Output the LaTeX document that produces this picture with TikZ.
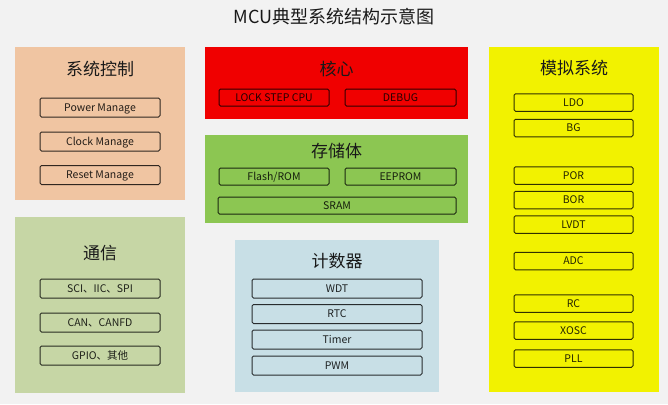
\documentclass[tikz,border=0pt]{standalone}
\usepackage{fontspec}
\newfontfamily\cjk{Noto Sans CJK SC}
\definecolor{bgray}{HTML}{F2F2F2}
\definecolor{peach}{HTML}{F0C5A2}
\definecolor{sage}{HTML}{C6D6A5}
\definecolor{corered}{HTML}{F00000}
\definecolor{memgreen}{HTML}{8CC652}
\definecolor{paleblue}{HTML}{C8DFE6}
\definecolor{anayellow}{HTML}{F2F200}

\begin{document}
\begin{tikzpicture}[x=1pt, y=-1pt,
    group/.style={inner sep=0pt},
    grouptitle/.style={font=\cjk\fontsize{17}{19}\selectfont, text=black!90, inner sep=0pt},
    item/.style={draw=black, draw opacity=.8, line width=1pt, rounded corners=1.5pt,
        inner sep=0pt, text height=9.5pt, text depth=2pt, text=black, text opacity=.85,
        font=\cjk\fontsize{10.5}{12}\selectfont}]
    \fill[bgray] (0,0) rectangle (668,404);
    \useasboundingbox (0,0) rectangle (668,404);

    \node[font=\cjk\fontsize{18}{20}\selectfont, text=black!90] (title) at (334,17) {MCU典型系统结构示意图};

    % system control
    \node[group, fill=peach, minimum width=170pt, minimum height=153pt] (ctl) at (100,123.5) {};
    \node[grouptitle] (ctltitle) at (100,69) {系统控制};
    \node[item, minimum width=120pt, minimum height=19pt] (power) at (100,107.5) {Power Manage};
    \node[item, minimum width=120pt, minimum height=19pt] (clock) at (100,141.5) {Clock Manage};
    \node[item, minimum width=120pt, minimum height=19pt] (reset) at (100,175) {Reset Manage};

    % communication
    \node[group, fill=sage, minimum width=170pt, minimum height=176pt] (com) at (100,305) {};
    \node[grouptitle] (comtitle) at (100,253) {通信};
    \node[item, minimum width=120pt, minimum height=19pt] (sci) at (100,288.5) {SCI、IIC、SPI};
    \node[item, minimum width=120pt, minimum height=19pt] (can) at (100,322.5) {CAN、CANFD};
    \node[item, minimum width=120pt, minimum height=19pt] (gpio) at (100,355.5) {GPIO、其他};

    % core
    \node[group, fill=corered, minimum width=263pt, minimum height=72pt] (core) at (336.5,83) {};
    \node[grouptitle] (coretitle) at (336.5,69) {核心};
    \node[item, minimum width=110pt, minimum height=17pt] (cpu) at (274,97.5) {LOCK STEP CPU};
    \node[item, minimum width=111pt, minimum height=17pt] (debug) at (400.5,97.5) {DEBUG};

    % memory
    \node[group, fill=memgreen, minimum width=263pt, minimum height=88pt] (mem) at (336.5,179) {};
    \node[grouptitle] (memtitle) at (336.5,151) {存储体};
    \node[item, minimum width=110pt, minimum height=17pt] (flash) at (274,176.5) {Flash/ROM};
    \node[item, minimum width=111pt, minimum height=17pt] (eeprom) at (400.5,176.5) {EEPROM};
    \node[item, minimum width=238pt, minimum height=17pt] (sram) at (337,205.5) {SRAM};

    % counters
    \node[group, fill=paleblue, minimum width=204pt, minimum height=152pt] (cnt) at (337,316) {};
    \node[grouptitle] (cnttitle) at (337,261) {计数器};
    \node[item, minimum width=170pt, minimum height=19pt] (wdt) at (337,288.5) {WDT};
    \node[item, minimum width=170pt, minimum height=19pt] (rtc) at (337,314) {RTC};
    \node[item, minimum width=170pt, minimum height=19pt] (timer) at (337,339.5) {Timer};
    \node[item, minimum width=170pt, minimum height=19pt] (pwm) at (337,365.5) {PWM};

    % analog
    \node[group, fill=anayellow, minimum width=170pt, minimum height=345pt] (ana) at (574,219.5) {};
    \node[grouptitle] (anatitle) at (574,68) {模拟系统};
    \node[item, minimum width=119pt, minimum height=17.5pt] (ldo) at (573.5,102.5) {LDO};
    \node[item, minimum width=119pt, minimum height=17.5pt] (bg) at (573.5,128) {BG};
    \node[item, minimum width=119pt, minimum height=17.5pt] (por) at (573.5,175.5) {POR};
    \node[item, minimum width=119pt, minimum height=17.5pt] (bor) at (573.5,200) {BOR};
    \node[item, minimum width=119pt, minimum height=17.5pt] (lvdt) at (573.5,224.5) {LVDT};
    \node[item, minimum width=119pt, minimum height=17.5pt] (adc) at (573.5,261) {ADC};
    \node[item, minimum width=119pt, minimum height=17.5pt] (rc) at (573.5,303.5) {RC};
    \node[item, minimum width=119pt, minimum height=17.5pt] (xosc) at (573.5,330.5) {XOSC};
    \node[item, minimum width=119pt, minimum height=17.5pt] (pll) at (573.5,358.5) {PLL};
\end{tikzpicture}
\end{document}
